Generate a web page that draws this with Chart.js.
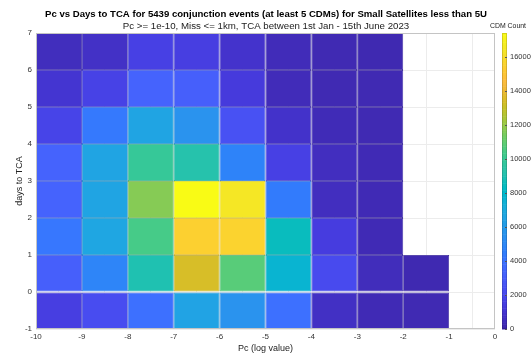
<!DOCTYPE html>
<html>
<head>
<meta charset="utf-8">
<script src="https://cdn.jsdelivr.net/npm/chart.js@4/dist/chart.umd.min.js"></script>
<style>
  html, body { margin: 0; padding: 0; background: #fff; }
  #wrap { width: 532px; height: 354px; }
</style>
</head>
<body>
<div id="wrap"><canvas id="chart" width="532" height="354"></canvas></div>
<script>
// Bin edges (left edge of each tile)
const pcBins = [-10, -9, -8, -7, -6, -5, -4, -3, -2, -1];
const dayBins = [-1, 0, 1, 2, 3, 4, 5, 6];

// CDM counts per day bin, one value per Pc bin (null = empty bin)
const daysM1to0 = [1500, 2200, 3900, 6500, 5600, 3900, 650, 300, 250, null];
const days0to1 = [3100, 4900, 9000, 13400, 10800, 7700, 2100, 450, 200, null];
const days1to2 = [4200, 6700, 10400, 15500, 15600, 8500, 1400, 300, null, null];
const days2to3 = [3300, 6600, 11700, 17400, 16500, 4400, 550, 300, null, null];
const days3to4 = [3300, 6600, 9900, 9200, 4800, 1600, 550, 300, null, null];
const days4to5 = [1800, 4300, 6600, 5600, 2400, 800, 350, 250, null, null];
const days5to6 = [1000, 1700, 3300, 3100, 1300, 400, 250, 250, null, null];
const days6to7 = [500, 700, 1600, 1500, 850, 400, 250, 200, null, null];
const countRows = [daysM1to0, days0to1, days1to2, days2to3, days3to4, days4to5, days5to6, days6to7];

// Colour bar
const cMin = 0;
const cMax = 17400;
const cbTicks = [0, 2000, 4000, 6000, 8000, 10000, 12000, 14000, 16000];

// parula, 64 entries
const parula = [
  [0.2422,0.1504,0.6603],[0.2504,0.1650,0.7076],[0.2578,0.1818,0.7511],[0.2647,0.1978,0.7952],
  [0.2706,0.2147,0.8364],[0.2751,0.2342,0.8710],[0.2783,0.2559,0.8991],[0.2803,0.2782,0.9221],
  [0.2813,0.3006,0.9414],[0.2810,0.3228,0.9579],[0.2795,0.3447,0.9717],[0.2760,0.3667,0.9829],
  [0.2699,0.3892,0.9906],[0.2602,0.4123,0.9952],[0.2440,0.4358,0.9988],[0.2206,0.4603,0.9973],
  [0.1963,0.4847,0.9892],[0.1834,0.5074,0.9798],[0.1786,0.5289,0.9682],[0.1764,0.5499,0.9520],
  [0.1687,0.5703,0.9359],[0.1540,0.5902,0.9218],[0.1460,0.6091,0.9079],[0.1380,0.6276,0.8973],
  [0.1248,0.6459,0.8883],[0.1113,0.6630,0.8763],[0.0952,0.6798,0.8598],[0.0689,0.6948,0.8394],
  [0.0297,0.7082,0.8163],[0.0036,0.7203,0.7917],[0.0067,0.7312,0.7660],[0.0433,0.7411,0.7394],
  [0.0964,0.7500,0.7120],[0.1408,0.7584,0.6842],[0.1717,0.7670,0.6554],[0.1938,0.7758,0.6251],
  [0.2161,0.7843,0.5923],[0.2470,0.7918,0.5567],[0.2906,0.7973,0.5188],[0.3406,0.8008,0.4789],
  [0.3909,0.8029,0.4354],[0.4456,0.8024,0.3909],[0.5044,0.7993,0.3480],[0.5616,0.7942,0.3045],
  [0.6174,0.7876,0.2612],[0.6720,0.7793,0.2227],[0.7242,0.7698,0.1910],[0.7738,0.7598,0.1646],
  [0.8203,0.7498,0.1535],[0.8634,0.7406,0.1596],[0.9035,0.7330,0.1774],[0.9393,0.7288,0.2100],
  [0.9728,0.7298,0.2394],[0.9956,0.7434,0.2371],[0.9970,0.7659,0.2199],[0.9952,0.7893,0.2028],
  [0.9892,0.8136,0.1885],[0.9786,0.8386,0.1766],[0.9676,0.8639,0.1643],[0.9610,0.8890,0.1537],
  [0.9597,0.9135,0.1423],[0.9628,0.9373,0.1265],[0.9691,0.9606,0.1064],[0.9769,0.9839,0.0805]
];

function colorFor(v, shade) {
  let t = (v - cMin) / (cMax - cMin);
  t = Math.max(0, Math.min(1, t));
  const f = t * (parula.length - 1);
  const i = Math.floor(f);
  const j = Math.min(i + 1, parula.length - 1);
  const a = f - i;
  const k = shade || 1;
  const c = parula[i].map((p, n) => Math.round(255 * k * (p + (parula[j][n] - p) * a)));
  return `rgb(${c[0]},${c[1]},${c[2]})`;
}

// one floating-bar dataset per day bin, empty bins left out
const datasets = dayBins.map((d, r) => ({
  label: d + ' to ' + (d + 1),
  data: pcBins
    .map((p, c) => ({ x: p + 0.5, y: [d, d + 1], v: countRows[r][c] }))
    .filter(pt => pt.v != null),
  backgroundColor: ctx => colorFor(ctx.raw ? ctx.raw.v : 0),
  borderColor: ctx => colorFor(ctx.raw ? ctx.raw.v : 0, 0.86),
  borderWidth: 0.8,
  borderSkipped: false,
  inflateAmount: 0,
  grouped: false,
  barPercentage: 1,
  categoryPercentage: 1
}));

const FONT = '"Liberation Sans", Arial, Helvetica, sans-serif';

const decorations = {
  id: 'decorations',
  afterDatasetsDraw(chart) {
    const ctx = chart.ctx;
    const a = chart.chartArea;
    // axes box
    ctx.save();
    ctx.strokeStyle = '#c4c4c4';
    ctx.lineWidth = 1;
    ctx.strokeRect(Math.round(a.left) + 0.5, Math.round(a.top) + 0.5,
      Math.round(a.right - a.left) - 1, Math.round(a.bottom - a.top) - 1);
    ctx.restore();
  },
  afterDraw(chart) {
    const ctx = chart.ctx;
    const a = chart.chartArea;
    const cs = chart.scales.c;
    ctx.save();
    // titles
    ctx.fillStyle = '#000';
    ctx.textAlign = 'center';
    ctx.textBaseline = 'middle';
    ctx.font = 'bold 9.6px ' + FONT;
    ctx.fillText('Pc vs Days to TCA for 5439 conjunction events (at least 5 CDMs) for Small Satellites less than 5U', 266, 14.5);
    ctx.font = '9.7px ' + FONT;
    ctx.fillStyle = '#222';
    ctx.fillText('Pc >= 1e-10, Miss <= 1km, TCA between 1st Jan - 15th June 2023', 266, 26.5);
    ctx.font = '6.9px ' + FONT;
    ctx.fillText('CDM Count', 508, 26.5);

    // colour bar
    const x0 = a.right + 7, w = 5;
    const yTop = cs.getPixelForValue(cMax), yBot = cs.getPixelForValue(cMin);
    const n = 128;
    for (let i = 0; i < n; i++) {
      const v0 = cMin + (cMax - cMin) * i / n;
      const v1 = cMin + (cMax - cMin) * (i + 1) / n;
      const y1 = cs.getPixelForValue(v0), y2 = cs.getPixelForValue(v1);
      ctx.fillStyle = colorFor((v0 + v1) / 2);
      ctx.fillRect(x0, y2, w, y1 - y2 + 0.5);
    }
    ctx.strokeStyle = 'rgba(0,0,0,0.15)';
    ctx.strokeRect(x0 + 0.5, yTop + 0.5, w - 1, yBot - yTop - 1);
    ctx.font = '7.5px ' + FONT;
    ctx.textAlign = 'left';
    ctx.fillStyle = '#333';
    ctx.strokeStyle = '#555';
    cbTicks.forEach(t => {
      const y = Math.round(cs.getPixelForValue(t));
      ctx.beginPath();
      ctx.moveTo(x0 + w - 2, y + 0.5);
      ctx.lineTo(x0 + w, y + 0.5);
      ctx.stroke();
      ctx.fillText(String(t), x0 + w + 3, y);
    });
    ctx.restore();
  }
};

new Chart(document.getElementById('chart'), {
  type: 'bar',
  data: { datasets: datasets },
  options: {
    responsive: false,
    animation: false,
    parsing: { xAxisKey: 'x', yAxisKey: 'y' },
    layout: { padding: { top: 33, right: 37, left: 0, bottom: 0 } },
    plugins: {
      legend: { display: false },
      tooltip: { enabled: false }
    },
    scales: {
      x: {
        type: 'linear',
        min: -10,
        max: 0,
        offset: false,
        afterFit: s => { s.height = 25; },
        ticks: {
          stepSize: 1,
          padding: 3,
          color: '#333',
          font: { family: FONT, size: 8 },
          maxRotation: 0
        },
        grid: { color: '#ececec', drawTicks: false },
        border: { display: false },
        title: {
          display: true,
          text: 'Pc (log value)',
          color: '#222',
          font: { family: FONT, size: 9 },
          padding: { top: 1, bottom: 0 }
        }
      },
      y: {
        type: 'linear',
        min: -1,
        max: 7,
        afterFit: s => { s.width = 36; },
        ticks: {
          stepSize: 1,
          padding: 4,
          color: '#333',
          font: { family: FONT, size: 8 }
        },
        grid: { color: '#ececec', drawTicks: false },
        border: { display: false },
        title: {
          display: true,
          text: 'days to TCA',
          color: '#222',
          font: { family: FONT, size: 9 },
          padding: { top: 14, bottom: 0 }
        }
      },
      c: {
        type: 'linear',
        axis: 'y',
        position: 'right',
        display: false,
        min: cMin,
        max: cMax
      }
    }
  },
  plugins: [decorations]
});
</script>
</body>
</html>
